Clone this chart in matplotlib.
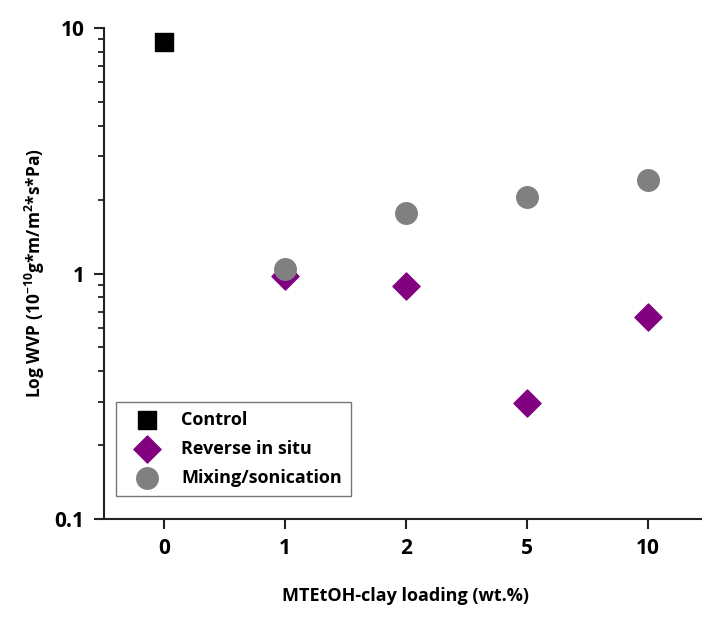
import matplotlib.pyplot as plt
from matplotlib.ticker import LogLocator, NullFormatter, FixedLocator

plt.rcParams['font.family'] = ['Open Sans', 'DejaVu Sans']
plt.rcParams['font.weight'] = 'bold'
plt.rcParams['mathtext.fontset'] = 'custom'
plt.rcParams['mathtext.rm'] = 'Open Sans:bold'
plt.rcParams['mathtext.bf'] = 'Open Sans:bold'
plt.rcParams['mathtext.it'] = 'Open Sans:bold'
plt.rcParams['mathtext.default'] = 'bf'

loadings = ['0', '1', '2', '5', '10']
control_pos = [0]
control_wvp = [8.77]
reverse_pos = [1, 2, 3, 4]
reverse_wvp = [0.98, 0.89, 0.297, 0.665]
mixing_pos = [1, 2, 3, 4]
mixing_wvp = [1.04, 1.76, 2.05, 2.40]

W, H = 702, 626
fig = plt.figure(figsize=(W / 100, H / 100), dpi=100)
ax_left, ax_top, ax_bottom = 104, 28, 519
ax = fig.add_axes([ax_left / W, 1 - ax_bottom / H, (W - ax_left) / W, (ax_bottom - ax_top) / H])
ax_w, ax_h = W - ax_left, ax_bottom - ax_top

ax.scatter(control_pos, control_wvp, marker='s', s=170, color='black', label='Control', zorder=3)
ax.scatter(reverse_pos, reverse_wvp, marker='D', s=190, color='#800080', label='Reverse in situ', zorder=3)
ax.scatter(mixing_pos, mixing_wvp, marker='o', s=240, color='#808080', label='Mixing/sonication', zorder=4)

ax.set_yscale('log')
ax.set_ylim(0.1, 10)
ax.set_xlim(-0.5, 4.45)
ax.xaxis.set_major_locator(FixedLocator(range(len(loadings))))
ax.set_xticklabels(loadings)
ax.set_yticks([0.1, 1, 10])
ax.set_yticklabels(['0.1', '1', '10'])
ax.yaxis.set_minor_locator(LogLocator(base=10, subs=range(2, 10)))
ax.yaxis.set_minor_formatter(NullFormatter())

for side in ['top', 'right']:
    ax.spines[side].set_visible(False)
for side in ['left', 'bottom']:
    ax.spines[side].set_linewidth(1.5)
    ax.spines[side].set_color('#222222')

ax.tick_params(axis='both', which='major', direction='out', length=7, width=1.5,
               labelsize=15, pad=7, colors='#222222', labelcolor='black')
ax.tick_params(axis='y', which='minor', direction='out', length=4, width=1.3, colors='#222222')

ax.set_xlabel('MTEtOH-clay loading (wt.%)', fontsize=13, fontweight='bold')
ax.set_ylabel('Log WVP (10$^{\\mathrm{-10}}$g*m/m$^{\\mathrm{2}}$*s*Pa)', fontsize=12.5,
              fontweight='bold')
ax.xaxis.set_label_coords((405 - ax_left) / ax_w, -(596 - ax_bottom) / ax_h, transform=ax.transAxes)
ax.xaxis.label.set_va('center')
ax.yaxis.set_label_coords(-(ax_left - 35) / ax_w, (ax_bottom - 273) / ax_h, transform=ax.transAxes)
ax.yaxis.label.set_va('center')

leg = ax.legend(loc='lower left', bbox_to_anchor=((116 - ax_left) / ax_w, (ax_bottom - 496) / ax_h),
                frameon=True, fancybox=False, edgecolor='#555555', fontsize=13,
                handlelength=2.4, handletextpad=0.7, borderpad=0.5, labelspacing=0.62,
                scatterpoints=1, borderaxespad=0)
leg.get_frame().set_linewidth(1.0)
for t in leg.get_texts():
    t.set_fontweight('bold')

fig.savefig('out.png', dpi=100)
